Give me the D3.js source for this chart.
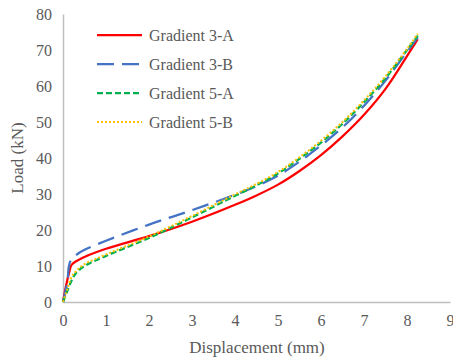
<!DOCTYPE html>
<html>
<head>
<meta charset="utf-8">
<script src="https://cdn.jsdelivr.net/npm/d3@7"></script>
<style>
	body { margin: 0; background: #fff; }
	text { font-family: "Liberation Serif", "Times New Roman", serif; fill: #595959; }
</style>
</head>
<body>
<div class="container"></div>
<script>
// data ---------------------------------------------------------------------------------
var seriesNames = ['Gradient 3-A', 'Gradient 3-B', 'Gradient 5-A', 'Gradient 5-B'];

var grad3A = [[0,0],[0.08,5],[0.15,8.5],[0.2,10.3],[0.5,12.5],[1,14.8],[2,18.3],[3,22.3],[4,27],
	[4.5,29.6],[5,32.6],[5.5,36.4],[6,40.8],[6.5,46],[7,52],[7.5,59.2],[8,68.3],[8.25,73]];
var grad3B = [[0,0],[0.1,5.5],[0.16,11],[0.3,13],[0.5,14.5],[1,17],[2,21.5],[3,25.5],[4,29.8],
	[4.5,32.2],[5,35.1],[5.5,39],[6,43.5],[6.5,48.5],[7,54.5],[7.5,61.5],[8,69.5],[8.25,73.5]];
var grad5A = [[0,0],[0.1,3],[0.2,6],[0.3,8],[0.5,10],[1,12.8],[2,17.8],[3,23.5],[4,29.5],
	[4.5,32.4],[5,35.7],[5.5,39.8],[6,44.3],[6.5,49.5],[7,55.5],[7.5,62.2],[8,70],[8.25,74]];
var grad5B = [[0,0],[0.1,3.5],[0.2,7],[0.3,8.5],[0.5,10.5],[1,13.2],[2,18.2],[3,23.9],[4,29.9],
	[4.5,32.8],[5,36.1],[5.5,40.2],[6,44.8],[6.5,50],[7,56],[7.5,62.7],[8,70.3],[8.25,74.5]];

var xTicks = [0,1,2,3,4,5,6,7,8,9];
var yTicks = [0,10,20,30,40,50,60,70,80];

// styles -------------------------------------------------------------------------------
var styles = [
	{color: '#FF0000', dash: null,  width: 2.25},
	{color: '#4472C4', dash: '17,8', width: 2.25},
	{color: '#00B050', dash: '6,3',  width: 2.25},
	{color: '#FFC000', dash: '2,2',  width: 2}
];

var WIDTH = 453, HEIGHT = 357;
var LEFT = 63, RIGHT = 450, TOP = 14, BOTTOM = 302;

var xScale = d3.scaleLinear().domain([0,9]).range([LEFT, RIGHT]);
var yScale = d3.scaleLinear().domain([0,80]).range([BOTTOM, TOP]);

var svg = d3.select('.container').append('svg')
	.attr('width', WIDTH)
	.attr('height', HEIGHT);

// axes
var xAxis = d3.axisBottom(xScale).tickValues(xTicks).tickSize(0).tickPadding(13);
var yAxis = d3.axisLeft(yScale).tickValues(yTicks).tickSize(0).tickPadding(11);

var gx = svg.append('g').attr('transform', 'translate(0,' + BOTTOM + ')').call(xAxis);
var gy = svg.append('g').attr('transform', 'translate(' + LEFT + ',0)').call(yAxis);

[gx, gy].forEach(function(g) {
	g.select('.domain').attr('stroke', '#BFBFBF').attr('stroke-width', 1.5);
	g.selectAll('text').style('font-size', '16px').attr('fill', '#595959')
		.style('font-family', '"Liberation Serif", serif');
});

// lines
var line = d3.line()
	.curve(d3.curveCatmullRom.alpha(0.5))
	.x(function(d) { return xScale(d[0]); })
	.y(function(d) { return yScale(d[1]); });

var allSeries = [grad3A, grad3B, grad5A, grad5B];
allSeries.forEach(function(data, i) {
	svg.append('path')
		.datum(data)
		.attr('fill', 'none')
		.attr('stroke', styles[i].color)
		.attr('stroke-width', styles[i].width)
		.attr('stroke-dasharray', styles[i].dash)
		.attr('d', line);
});

// legend
var legend = svg.append('g').attr('transform', 'translate(97,35)');
seriesNames.forEach(function(name, i) {
	var row = legend.append('g').attr('transform', 'translate(0,' + (i * 29) + ')');
	row.append('line')
		.attr('x1', 0).attr('x2', 45).attr('y1', 0).attr('y2', 0)
		.attr('stroke', styles[i].color)
		.attr('stroke-width', styles[i].width)
		.attr('stroke-dasharray', styles[i].dash);
	row.append('text')
		.attr('x', 52).attr('y', 5.5)
		.style('font-size', '16px')
		.text(name);
});

// axis titles
svg.append('text')
	.attr('x', 257).attr('y', 353)
	.attr('text-anchor', 'middle')
	.style('font-size', '17px')
	.text('Displacement (mm)');

svg.append('text')
	.attr('transform', 'translate(23,158) rotate(-90)')
	.attr('text-anchor', 'middle')
	.style('font-size', '17px')
	.text('Load (kN)');
</script>
</body>
</html>
